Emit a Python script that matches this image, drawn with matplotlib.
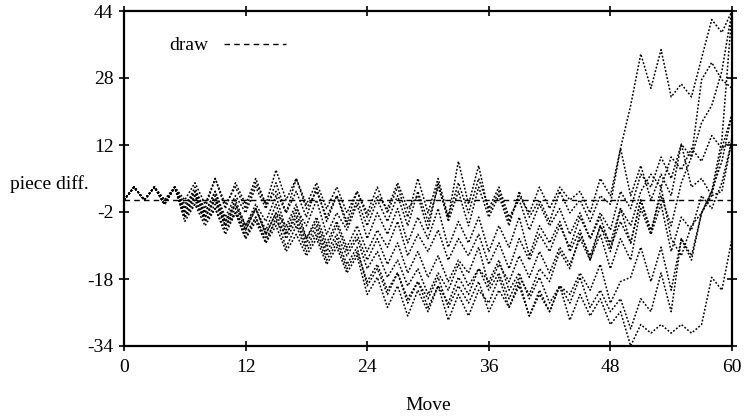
import numpy as np
import matplotlib
matplotlib.use("Agg")
import matplotlib.pyplot as plt

plt.rcParams['font.family'] = ['Liberation Serif', 'DejaVu Serif']
plt.rcParams['axes.unicode_minus'] = False

moves = list(range(61))

# piece difference per move, one list per game
game1 = [0, 3, 0, 3, -1, 3, 0, 4, -1, 5, -2, 4,
         -1, 5, -1, 7, 0, 5, -1, 4, -2, 3, -3, 2,
         -3, 3, -3, 3, -4, 5, -3, 5, -4, 9, -1, 8,
         -3, 2, -5, 1, -3, 3, -2, 3, 0, 2, -3, 5,
         1, 12, 22, 34, 26, 35, 24, 27, 24, 33, 42, 39, 44]
game2 = [0, 3, 0, 3, 0, 3, -1, 2, -2, 5, -1, 3,
         -2, 4, -1, 2, -3, 5, -2, 2, -4, 1, -5, 2,
         -4, 1, -2, 4, -2, 1, -7, 4, -5, 2, -6, 3,
         -4, 1, -6, 2, -4, 0, -5, 2, -3, 0, -5, 1,
         -1, 12, 1, 8, 0, 6, 1, 13, 3, 5, 1, 2, 14]
game3 = [0, 3, 0, 3, -1, 3, -4, 1, -3, 2, -5, 0,
         -6, -1, -5, 1, -7, -2, -6, 0, -8, -3, -7, -1,
         -9, -3, -8, -2, -10, -4, -9, -2, -11, -5, -10, -4,
         -12, -6, -11, -4, -13, -6, -10, -5, -12, -7, -14, -6,
         -12, -2, -10, 0, -8, 3, -9, -13, -6, -3, 1, 12, 20]
game4 = [0, 3, 0, 3, -1, 3, -3, 2, -4, 1, -6, -1,
         -7, -2, -8, -3, -6, -1, -9, -4, -10, -5, -11, -6,
         -12, -7, -11, -5, -13, -8, -12, -7, -14, -9, -13, -8,
         -15, -10, -16, -9, -14, -8, -12, -6, -11, -4, -9, -3,
         -7, 2, -2, 6, 3, 10, 5, 13, 10, 28, 32, 28, 26]
game5 = [0, 3, 0, 3, -1, 3, -4, 0, -5, -1, -6, -2,
         -8, -4, -9, -5, -8, -4, -10, -6, -12, -8, -13, -9,
         -16, -12, -18, -14, -20, -16, -22, -17, -21, -15, -20, -16,
         -21, -17, -23, -18, -22, -16, -19, -12, -16, -8, -13, -6,
         -10, -2, -6, 2, 6, 3, 10, 7, 12, 9, 15, 12, 14]
game6 = [0, 3, 0, 3, -1, 3, -5, -1, -4, 0, -6, -3,
         -9, -5, -10, -4, -11, -6, -12, -8, -14, -10, -16, -12,
         -19, -15, -21, -17, -23, -19, -25, -20, -24, -18, -22, -16,
         -19, -14, -21, -17, -23, -18, -24, -20, -22, -17, -21, -15,
         -24, -19, -18, -11, -19, -11, -21, -9, -14, -3, 2, 14, 44]
game7 = [0, 3, 0, 3, -1, 3, -3, 1, -5, -2, -7, -3,
         -7, -2, -8, -3, -9, -5, -11, -7, -13, -9, -15, -11,
         -20, -16, -22, -17, -24, -19, -23, -18, -25, -20, -24, -19,
         -26, -21, -25, -20, -27, -22, -26, -20, -24, -18, -25, -21,
         -26, -23, -30, -23, -26, -17, -26, -9, -13, -3, 2, 9, 20]
game8 = [0, 3, 0, 3, -1, 3, -4, -1, -6, -2, -8, -3,
         -9, -4, -10, -6, -12, -8, -13, -9, -15, -11, -17, -13,
         -22, -18, -25, -20, -27, -21, -26, -20, -28, -22, -27, -21,
         -24, -18, -25, -19, -27, -21, -26, -20, -28, -22, -27, -23,
         -29, -26, -34, -29, -31, -29, -31, -29, -31, -29, -18, -21, -9]
game9 = [0, 3, 0, 3, 0, 3, -2, 2, -4, 0, -5, -1,
         -6, -2, -7, -1, -8, -3, -9, -5, -11, -6, -12, -8,
         -14, -9, -15, -10, -17, -12, -18, -13, -19, -14, -17, -11,
         -20, -15, -19, -13, -18, -12, -17, -11, -15, -9, -14, -8,
         -16, -9, -14, -2, -8, -1, -12, -4, -7, 1, -2, 4, 14]
game10 = [0, 3, 0, 3, -1, 3, -2, 3, -3, 2, -4, 1,
          -3, 3, -2, 4, -3, 2, -4, 3, -5, 1, -6, 0,
          -6, 0, -5, 1, -6, 2, -5, 3, -4, 4, -3, 5,
          -2, 3, -4, 0, -7, -1, -6, -2, -8, -3, -9, -4,
          -11, -5, -10, 0, -7, 1, -6, 4, 10, 18, 22, 30, 44]

games = [game1, game2, game3, game4, game5, game6, game7, game8, game9, game10]
draw_x = [0, 60]
draw_y = [0, 0]

ytick_vals = np.linspace(-34, 44, 6)
ytick_labels = ['-34', '-18', '-2', '12', '28', '44']
xtick_vals = [0, 12, 24, 36, 48, 60]

fig = plt.figure(figsize=(7.45, 4.17), dpi=100)
ax = fig.add_axes([124 / 745, 71 / 417, 608 / 745, 335 / 417])

for g in games:
    ax.plot(moves[:len(g)], g, color='black', linestyle=(0, (1.2, 1.2)), lw=1.1)
ax.plot(draw_x, draw_y, color='black', linestyle=(0, (4, 3)), lw=1.0, label='draw')

ax.set_xlim(0, 60)
ax.set_ylim(-34, 44)
ax.set_xticks(xtick_vals)
ax.set_yticks(ytick_vals)
ax.set_yticklabels(ytick_labels)
ax.tick_params(direction='inout', length=7, width=1.2, labelsize=14,
               top=True, right=True, pad=6)
ax.tick_params(axis='y', pad=4)
for sp in ax.spines.values():
    sp.set_linewidth(1.6)

ax.set_xlabel('Move', fontsize=14, labelpad=15)
ax.text(-114 / 608, 0.484, 'piece diff.', transform=ax.transAxes, fontsize=14,
        ha='left', va='center')

ax.legend(loc='upper left', bbox_to_anchor=(0.045, 0.975), frameon=False,
          markerfirst=False, fontsize=14, handlelength=3.2, handletextpad=0.8)

fig.savefig('out.png', dpi=100)
